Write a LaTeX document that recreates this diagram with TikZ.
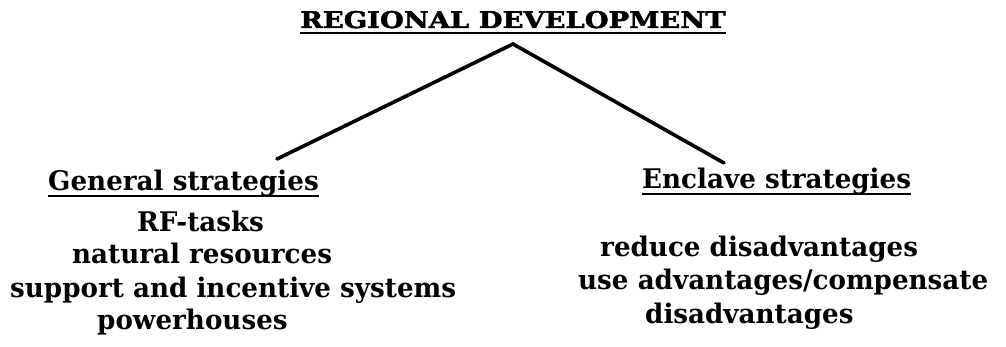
\documentclass[tikz,border=0pt]{standalone}
\usepackage{fontspec}
\setmainfont{DejaVu Serif}
\newfontfamily\headfont{DejaVu Serif}[FakeStretch=1.19,FakeBold=2]
\newfontfamily\bodyfont{DejaVu Serif}[FakeStretch=0.97]
\begin{document}
\begin{tikzpicture}[x=1pt,y=-1pt,
  heading/.style={font=\headfont\bfseries\fontsize{23}{23}\selectfont, inner sep=0pt, anchor=base west},
  label/.style={font=\bodyfont\bfseries\fontsize{27}{27}\selectfont, inner sep=0pt, anchor=base west},
  item/.style={font=\bodyfont\bfseries\fontsize{27}{27}\selectfont, inner sep=0pt, anchor=base west},
  branch/.style={line width=3.6pt, line cap=round, line join=miter},
  uline/.style={line width=2pt}]
\useasboundingbox (0,0) rectangle (1006,347);

% title
\node[heading] (title) at (300,28) {REGIONAL DEVELOPMENT};
\draw[uline] ([yshift=-5pt]title.base west) -- ([yshift=-5pt]title.base east);

% branches
\coordinate (apex) at (513,44);
\coordinate (lend) at (277,159);
\coordinate (rend) at (724,163);
\draw[branch] (lend) -- (apex) -- (rend);

% left column
\node[label] (gen) at (48,191) {General strategies};
\draw[uline] ([yshift=-5pt]gen.base west) -- ([yshift=-5pt]gen.base east);
\node[item] (rf)  at (137,232) {RF-tasks};
\node[item] (nat) at (72,264) {natural resources};
\node[item] (sup) at (10,297) {support and incentive systems};
\node[item] (pow) at (97,329) {powerhouses};

% right column
\node[label] (enc) at (642,189) {Enclave strategies};
\draw[uline] ([yshift=-5pt]enc.base west) -- ([yshift=-5pt]enc.base east);
\node[item] (red) at (600,257) {reduce disadvantages};
\node[item] (use) at (578,290) {use advantages/compensate};
\node[item] (dis) at (645,323) {disadvantages};
\end{tikzpicture}
\end{document}
